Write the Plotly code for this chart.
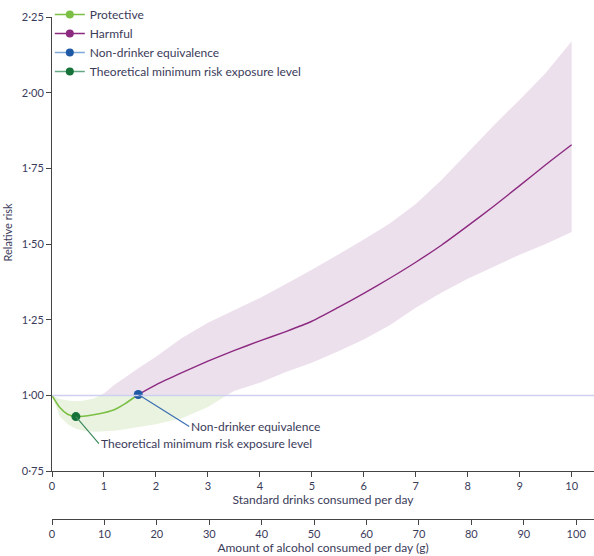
import numpy as np
import plotly.graph_objects as go

# ---------------- data ----------------
drinks = [0, 0.15, 0.3, 0.46, 0.6, 0.8, 1.0, 1.2, 1.4, 1.66, 2.0, 2.5, 3.0, 3.5, 4.0,
          4.5, 5.0, 5.5, 6.0, 6.5, 7.0, 7.5, 8.0, 8.5, 9.0, 9.5, 10.0]
ci_lower = [1.0, 0.93, 0.905, 0.89, 0.883, 0.880, 0.881, 0.883, 0.888, 0.895, 0.905,
            0.925, 0.962, 1.015, 1.042, 1.077, 1.108, 1.145, 1.185, 1.232, 1.29, 1.34,
            1.385, 1.425, 1.465, 1.50, 1.54]
ci_upper = [1.0, 0.988, 0.983, 0.981, 0.982, 0.990, 1.006, 1.035, 1.058, 1.09, 1.128,
            1.19, 1.24, 1.282, 1.322, 1.368, 1.415, 1.465, 1.515, 1.568, 1.632, 1.712,
            1.802, 1.892, 1.977, 2.065, 2.17]

protective_x = [0, 0.15, 0.3, 0.46, 0.6, 0.8, 1.0, 1.2, 1.4, 1.66]
protective_y = [1.0, 0.96, 0.938, 0.930, 0.931, 0.936, 0.943, 0.953, 0.972, 1.003]

harmful_x = [1.66, 2.0, 2.5, 3.0, 3.5, 4.0, 4.5, 5.0, 5.5, 6.0, 6.5, 7.0, 7.5, 8.0,
             8.5, 9.0, 9.5, 10.0]
harmful_y = [1.003, 1.035, 1.075, 1.113, 1.148, 1.18, 1.211, 1.245, 1.29, 1.337, 1.387,
             1.44, 1.497, 1.56, 1.625, 1.693, 1.762, 1.828]

nde_x, nde_y = [1.66], [1.003]
tmrel_x, tmrel_y = [0.46], [0.930]
reference_level = 1.0

y_ticks = [0.75, 1.00, 1.25, 1.50, 1.75, 2.00, 2.25]
y_ticktext = ["0·75", "1·00", "1·25", "1·50", "1·75", "2·00", "2·25"]
x_ticks = list(range(0, 11))
g_ticks = list(range(0, 101, 10))

# ---------------- styles ----------------
FONT = "Lato"
TXT = "#3b3b5a"
AXC = "#444444"
GREEN = "#7cbf45"
PURPLE = "#8c2a80"
BLUE = "#1f59a6"
DKGREEN = "#157238"
GREEN_FILL = "#e9f3e0"
PURPLE_FILL = "#ede0ed"


def split_band(x, lo, hi, level):
    """Insert level crossings so the band can be split above/below the level."""
    x = np.asarray(x, float); lo = np.asarray(lo, float); hi = np.asarray(hi, float)
    xs = list(x)
    for arr in (lo, hi):
        d = arr - level
        for i in range(len(x) - 1):
            if d[i] * d[i + 1] < 0:
                xs.append(x[i] + (x[i + 1] - x[i]) * d[i] / (d[i] - d[i + 1]))
    xs = np.unique(np.array(xs))
    return xs, np.interp(xs, x, lo), np.interp(xs, x, hi)


bx, blo, bhi = split_band(drinks, ci_lower, ci_upper, reference_level)

fig = go.Figure()

# purple band (part above the reference level)
fig.add_trace(go.Scatter(x=bx, y=np.maximum(blo, reference_level), mode="lines",
                         line=dict(width=0), showlegend=False, hoverinfo="skip"))
fig.add_trace(go.Scatter(x=bx, y=np.maximum(bhi, reference_level), mode="lines",
                         line=dict(width=0), fill="tonexty", fillcolor=PURPLE_FILL,
                         showlegend=False, hoverinfo="skip"))
# green band (part below the reference level)
fig.add_trace(go.Scatter(x=bx, y=np.minimum(blo, reference_level), mode="lines",
                         line=dict(width=0), showlegend=False, hoverinfo="skip"))
fig.add_trace(go.Scatter(x=bx, y=np.minimum(bhi, reference_level), mode="lines",
                         line=dict(width=0), fill="tonexty", fillcolor=GREEN_FILL,
                         showlegend=False, hoverinfo="skip"))

# reference line
fig.add_shape(type="line", xref="paper", x0=0, x1=1, yref="y",
              y0=reference_level, y1=reference_level,
              line=dict(color="#cfd0ef", width=1.5), layer="above")

# curves
fig.add_trace(go.Scatter(x=protective_x, y=protective_y, mode="lines",
                         line=dict(color=GREEN, width=1.6, shape="spline", smoothing=0.6),
                         showlegend=False, hoverinfo="skip"))
fig.add_trace(go.Scatter(x=harmful_x, y=harmful_y, mode="lines",
                         line=dict(color=PURPLE, width=1.4, shape="spline", smoothing=0.5),
                         showlegend=False, hoverinfo="skip"))
fig.add_trace(go.Scatter(x=tmrel_x, y=tmrel_y, mode="markers",
                         marker=dict(color=DKGREEN, size=9), showlegend=False))
fig.add_trace(go.Scatter(x=nde_x, y=nde_y, mode="markers",
                         marker=dict(color=BLUE, size=9), showlegend=False))

# legend entries
legend_items = [
    ("Protective", GREEN, GREEN),
    ("Harmful", PURPLE, PURPLE),
    ("Non-drinker equivalence", "#7ea8d8", BLUE),
    ("Theoretical minimum risk exposure level", "#66a883", DKGREEN),
]
for name, lc, mc in legend_items:
    fig.add_trace(go.Scatter(x=[None], y=[None], mode="lines+markers", name=name,
                             line=dict(color=lc, width=1.6),
                             marker=dict(color=mc, size=8)))

# dummy trace for the grams axis
fig.add_trace(go.Scatter(x=[None], y=[None], xaxis="x2", showlegend=False,
                         hoverinfo="skip"))

# annotations
fig.add_annotation(x=nde_x[0], y=nde_y[0], text="Non-drinker equivalence",
                   showarrow=True, arrowhead=0, arrowwidth=1.2, arrowcolor="#3b6fb3",
                   ax=51, ay=32, xanchor="left", yanchor="middle",
                   font=dict(family=FONT, size=12, color=TXT))
fig.add_annotation(x=tmrel_x[0], y=tmrel_y[0],
                   text="Theoretical minimum risk exposure level",
                   showarrow=True, arrowhead=0, arrowwidth=1.2, arrowcolor="#3d8a5c",
                   ax=23, ay=27, xanchor="left", yanchor="middle",
                   font=dict(family=FONT, size=12, color=TXT))
fig.add_annotation(xref="paper", yref="paper", x=0, y=0.5706, xshift=-44,
                   text="Relative risk", textangle=-90, showarrow=False,
                   xanchor="center", yanchor="middle",
                   font=dict(family=FONT, size=11, color=TXT))

axis_common = dict(showgrid=False, zeroline=False, showline=True, linecolor=AXC,
                   linewidth=1, ticks="outside", ticklen=5, tickcolor=AXC,
                   tickfont=dict(family=FONT, size=11, color=TXT))

fig.update_layout(
    width=594, height=556,
    margin=dict(l=52, r=0, t=16, b=37),
    paper_bgcolor="white", plot_bgcolor="white",
    font=dict(family=FONT, size=12, color=TXT),
    xaxis=dict(range=[0, 10.43], tickvals=x_ticks, anchor="y",
               title=dict(text="Standard drinks consumed per day",
                          font=dict(family=FONT, size=12, color=TXT), standoff=4),
               **axis_common),
    xaxis2=dict(range=[0, 103.4], domain=[0.0055, 1], tickvals=g_ticks,
                overlaying="x", anchor="free", position=0, side="bottom",
                title=dict(text="Amount of alcohol consumed per day (g)",
                           font=dict(family=FONT, size=12, color=TXT), standoff=4),
                **axis_common),
    yaxis=dict(range=[0.75, 2.25], domain=[0.0954, 1], tickvals=y_ticks,
               ticktext=y_ticktext, **axis_common),
    legend=dict(x=-0.004, y=1.033, xanchor="left", yanchor="top",
                bgcolor="rgba(0,0,0,0)", font=dict(family=FONT, size=12, color=TXT),
                tracegroupgap=0, itemwidth=30, traceorder="normal"),
    showlegend=True,
)

fig.write_html("out.html",
               config={"displayModeBar": False},
               post_script="document.body.style.margin='0';"
                           "document.body.style.overflow='hidden';")
